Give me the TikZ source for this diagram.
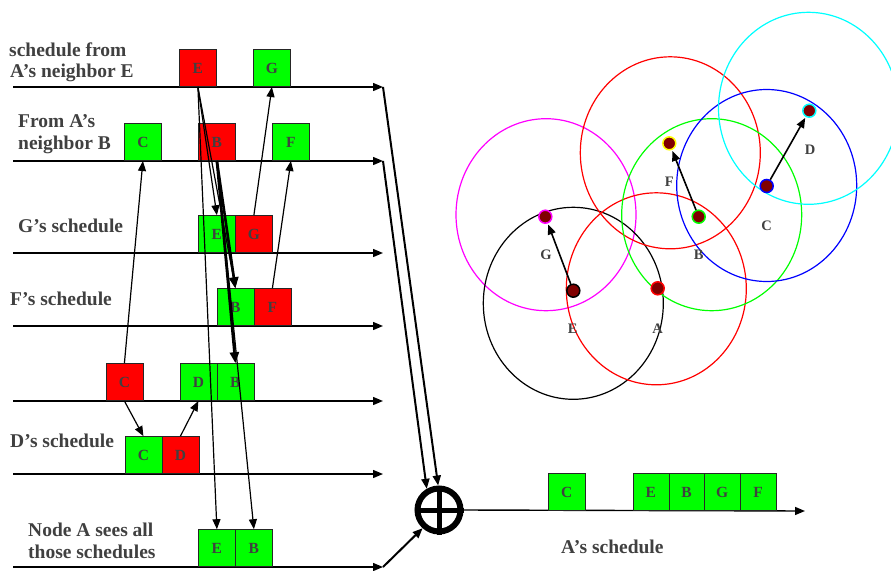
\documentclass[tikz,border=0pt]{standalone}
\usepackage{fontspec}
\setmainfont{Liberation Serif}
\usetikzlibrary{arrows.meta}
\definecolor{txtgray}{HTML}{404040}
\definecolor{gfill}{HTML}{00FF00}
\definecolor{rfill}{HTML}{FF0000}
\definecolor{dotred}{HTML}{800000}
\definecolor{magc}{HTML}{FF00FF}
\definecolor{cyac}{HTML}{00FFFF}
\definecolor{yelc}{HTML}{FFFF00}
\definecolor{bluc}{HTML}{0000FF}
\tikzset{
  arrtip/.style={-{Triangle[length=10pt,width=8pt]}},
  tline/.style={line width=1.4pt, arrtip},
  conn/.style={line width=1.2pt, arrtip},
  thickconn/.style={line width=2.6pt, -{Triangle[length=11pt,width=9pt]}},
  boxbase/.style={draw=black!85, line width=0.8pt, minimum width=37pt, minimum height=37pt,
    inner sep=0pt, anchor=south west, text=txtgray, font=\fontsize{15.5}{15.5}\selectfont\bfseries},
  gbox/.style={boxbase, fill=gfill},
  rbox/.style={boxbase, fill=rfill},
  lbl/.style={anchor=base west, inner sep=0pt, text=txtgray, font=\fontsize{19.5}{22}\selectfont\bfseries},
  nlbl/.style={inner sep=0pt, text=txtgray, font=\fontsize{14.5}{14.5}\selectfont\bfseries},
  rangecirc/.style={line width=1.2pt},
  netdot/.style={circle, fill=dotred, minimum size=13pt, inner sep=0pt, line width=1.5pt},
  netarrow/.style={line width=1.6pt, arrtip, shorten >=1pt}
}
\begin{document}
\begin{tikzpicture}[x=1pt,y=-1pt]
\useasboundingbox (0,0) rectangle (891,570);

% ---------- timelines ----------
\foreach \n/\y in {1/87,2/161,3/253,4/326,5/401,6/474,7/567}{
  \coordinate (l\n s) at (13,\y);
  \coordinate (l\n e) at (383,\y);
}
\foreach \n in {1,...,7}{ \draw[tline] (l\n s) -- (l\n e); }

% ---------- labels ----------
\node[lbl] (t1a) at (9,56) {schedule from};
\node[lbl] (t1b) at (10,77) {A’s neighbor E};
\node[lbl] (t2a) at (18,127) {From A’s};
\node[lbl] (t2b) at (18,149) {neighbor B};
\node[lbl] (t3) at (18,232) {G’s schedule};
\node[lbl] (t4) at (10,305.5) {F’s schedule};
\node[lbl] (t6) at (10,447) {D’s schedule};
\node[lbl] (t7a) at (28,536) {Node A sees all};
\node[lbl] (t7b) at (28,558) {those schedules};
\node[lbl] (tout) at (561,553) {A’s schedule};

% ---------- boxes ----------
\node[rbox] (r1E) at (179,87) {E};
\node[gbox] (r1G) at (253,87) {G};
\node[gbox] (r2C) at (124,161) {C};
\node[rbox] (r2B) at (198,161) {B};
\node[gbox] (r2F) at (272,161) {F};
\node[gbox] (r3E) at (198,253) {E};
\node[rbox] (r3G) at (235,253) {G};
\node[gbox] (r4B) at (216.5,326) {B};
\node[rbox] (r4F) at (253.5,326) {F};
\node[rbox] (r5C) at (105.5,401) {C};
\node[gbox] (r5D) at (179.5,401) {D};
\node[gbox] (r5B) at (216.5,401) {B};
\node[gbox] (r6C) at (124.5,474) {C};
\node[rbox] (r6D) at (161.5,474) {D};
\node[gbox] (r7E) at (198,567) {E};
\node[gbox] (r7B) at (235,567) {B};

% ---------- connectors between boxes ----------
\draw[conn] (r5C.north) -- (r2C.south);
\draw[conn] (r4F.north) -- (r2F.south);
\draw[conn] (r3G.north) -- (r1G.south);
\draw[conn] (r5C.south) -- (r6C.north);
\draw[conn] (r6D.north) -- (r5D.south);
\draw[conn] (r1E.south) -- (r3E.north);
\draw[conn] (r1E.south) -- (r4B.north);
\draw[conn] (r1E.south) -- (r7E.north);
\draw[conn] (r2B.south) -- (r7B.north);
\draw[thickconn] (r2B.south) -- (r4B.north);
\draw[thickconn] (r2B.south) -- (r5B.north);

% ---------- sum node ----------
\node[circle, draw, line width=6pt, minimum size=43pt, inner sep=0pt] (sum) at (439,510) {};
\draw[line width=5pt] (sum.north) -- (sum.south);
\draw[line width=5pt] (sum.west) -- (sum.east);
\draw[line width=2pt, arrtip] (l1e) -- (sum.92);
\draw[line width=2pt, arrtip] (l2e) -- (sum.120);
\draw[line width=2pt, arrtip] (l7e) -- (sum.228);
\coordinate (outend) at (805,511);
\draw[tline] (sum.east) -- (outend);

% ---------- output boxes ----------
\node[gbox, minimum width=36.5pt] (oC) at (548,511) {C};
\node[gbox, minimum width=36pt] (oE) at (632.5,511) {E};
\node[gbox, minimum width=35.5pt] (oB) at (668.5,511) {B};
\node[gbox, minimum width=35.5pt] (oG) at (704,511) {G};
\node[gbox, minimum width=36.5pt] (oF) at (739.5,511) {F};

% ---------- network ----------
\draw[rangecirc, magc] (546,214.7) ellipse [x radius=90, y radius=96];
\draw[rangecirc, black] (573.3,303.3) ellipse [x radius=90, y radius=96];
\draw[rangecirc, rfill] (656.3,288.8) ellipse [x radius=90, y radius=96];
\draw[rangecirc, rfill] (670.3,152.8) ellipse [x radius=90, y radius=96];
\draw[rangecirc, gfill] (711.7,214.7) ellipse [x radius=90, y radius=96];
\draw[rangecirc, bluc] (766.7,185.5) ellipse [x radius=90, y radius=96];
\draw[rangecirc, cyac] (808.5,108.3) ellipse [x radius=90, y radius=96];

\node[netdot, draw=magc] (nG) at (545.3,216.7) {};
\node[netdot, draw=black] (nE) at (573.3,290.7) {};
\node[netdot, draw=rfill] (nA) at (657.7,288.3) {};
\node[netdot, draw=yelc] (nF) at (669.3,143.3) {};
\node[netdot, draw=gfill] (nB) at (698.7,216.7) {};
\node[netdot, draw=bluc] (nC) at (766.7,186) {};
\node[netdot, draw=cyac] (nD) at (809.3,110.7) {};

\draw[netarrow] (nE) -- (nG);
\draw[netarrow] (nB) -- (nF);
\draw[netarrow] (nC) -- (nD);

\node[nlbl] (lG) at (546,255) {G};
\node[nlbl] (lE) at (572.7,328.3) {E};
\node[nlbl] (lA) at (657.7,328.3) {A};
\node[nlbl] (lF) at (669.3,181.7) {F};
\node[nlbl] (lB) at (698.7,255) {B};
\node[nlbl] (lC) at (766.7,226) {C};
\node[nlbl] (lD) at (810,149.3) {D};
\end{tikzpicture}
\end{document}
